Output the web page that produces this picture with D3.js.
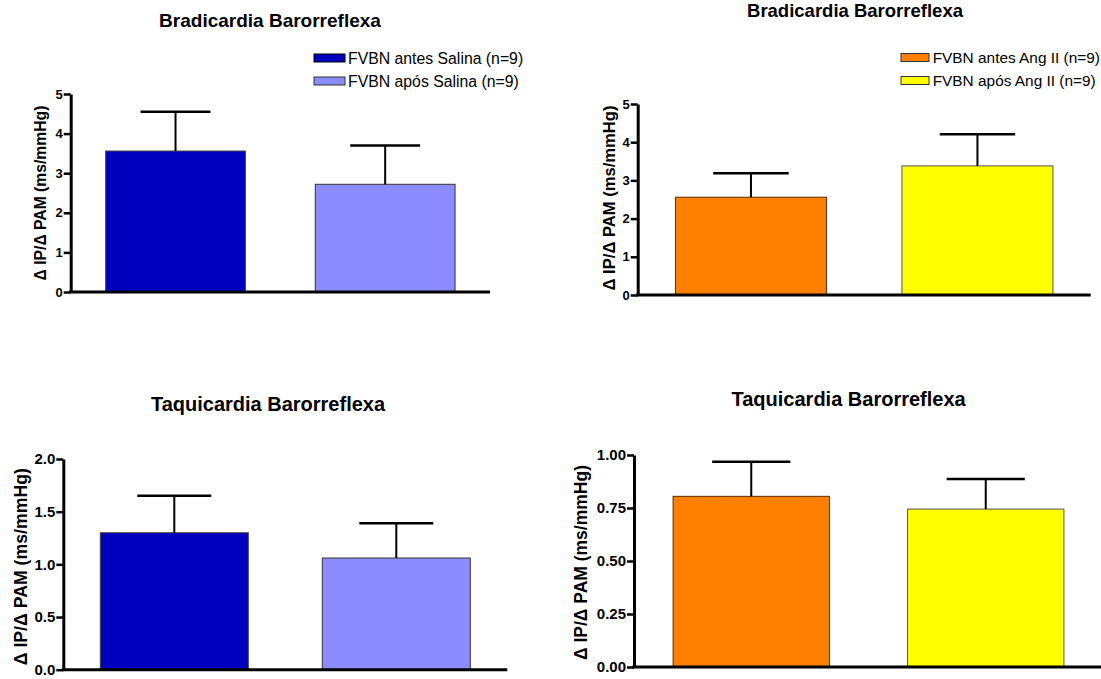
<!DOCTYPE html>
<html>
  <head>
    <meta charset="utf-8" />
    <title>Barorreflexa</title>
    <script src="https://d3js.org/d3.v7.min.js"></script>
    <style>
      body { margin: 0; background: #fff; }
      svg { display: block; font-family: "Liberation Sans", Arial, sans-serif; }
      .title { font-weight: bold; text-anchor: middle; }
      .ylab { font-weight: bold; text-anchor: middle; }
    </style>
  </head>
  <body>
    <svg width="1101" height="679"></svg>
    <script>
      // data
      const salinaGroups = ["FVBN antes Salina (n=9)", "FVBN após Salina (n=9)"];
      const angGroups = ["FVBN antes Ang II (n=9)", "FVBN após Ang II (n=9)"];
      const salinaColors = ["#0000BF", "#8C8CFF"];
      const angColors = ["#FF8000", "#FFFF00"];

      const bradiSalinaMean = [3.56, 2.72];
      const bradiSalinaSem = [0.99, 0.98];
      const bradiAngMean = [2.56, 3.38];
      const bradiAngSem = [0.63, 0.83];
      const taquiSalinaMean = [1.30, 1.06];
      const taquiSalinaSem = [0.35, 0.33];
      const taquiAngMean = [0.805, 0.745];
      const taquiAngSem = [0.163, 0.142];

      const bradiTicks = [0, 1, 2, 3, 4, 5];
      const taquiSalinaTicks = [0, 0.5, 1.0, 1.5, 2.0];
      const taquiAngTicks = [0, 0.25, 0.5, 0.75, 1.0];

      const titleBradi = "Bradicardia Barorreflexa";
      const titleTaqui = "Taquicardia Barorreflexa";
      const yLabel = "\u0394 IP/\u0394 PAM (ms/mmHg)";

      const svg = d3.select("svg");

      const panels = [
        { groups: salinaGroups, colors: salinaColors, strokes: ["#444", "#333"],
          mean: bradiSalinaMean, sem: bradiSalinaSem, ticks: bradiTicks, fmt: d3.format("d"), ymax: 5,
          x0: 70.7, x1: 490, yb: 292, yt: 94, tickFont: 13,
          title: titleBradi, tx: 270, ty: 27, tsize: 19,
          lx: 46, ly: 193, lsize: 15.7,
          legend: { x: 314, y: 54, w: 31, tx: 348, dy: 23, size: 15.8 } },
        { groups: angGroups, colors: angColors, strokes: ["#5c2e00", "#555"],
          mean: bradiAngMean, sem: bradiAngSem, ticks: bradiTicks, fmt: d3.format("d"), ymax: 5,
          x0: 637.7, x1: 1090.7, yb: 295, yt: 104, tickFont: 13,
          title: titleBradi, tx: 855, ty: 16.7, tsize: 18.5,
          lx: 614.6, ly: 198, lsize: 16.6,
          legend: { x: 901, y: 53.5, w: 28, tx: 932.7, dy: 23, size: 15.4 } },
        { groups: salinaGroups, colors: salinaColors, strokes: ["#444", "#333"],
          mean: taquiSalinaMean, sem: taquiSalinaSem, ticks: taquiSalinaTicks, fmt: d3.format(".1f"), ymax: 2,
          x0: 63.3, x1: 507.3, yb: 669.7, yt: 459, tickFont: 15,
          title: titleTaqui, tx: 268, ty: 410.7, tsize: 20,
          lx: 26.7, ly: 566.7, lsize: 17.7 },
        { groups: angGroups, colors: angColors, strokes: ["#5c2e00", "#555"],
          mean: taquiAngMean, sem: taquiAngSem, ticks: taquiAngTicks, fmt: d3.format(".2f"), ymax: 1,
          x0: 634, x1: 1103, yb: 667, yt: 455, tickFont: 15,
          title: titleTaqui, tx: 848.6, ty: 406, tsize: 20,
          lx: 587, ly: 562.5, lsize: 17.5 }
      ];

      panels.forEach(p => {
        const g = svg.append("g");

        const x = d3.scaleBand()
                    .domain(p.groups)
                    .range([p.x0, p.x1])
                    .paddingInner(1 / 3)
                    .paddingOuter(1 / 6);
        const y = d3.scaleLinear()
                    .domain([0, p.ymax])
                    .range([p.yb, p.yt]);

        const rows = p.groups.map((k, i) => ({ key: k, mean: p.mean[i], sem: p.sem[i], i: i }));

        // bars
        g.selectAll("rect.bar")
         .data(rows)
         .enter().append("rect")
         .attr("class", "bar")
         .attr("x", d => x(d.key))
         .attr("y", d => y(d.mean))
         .attr("width", x.bandwidth())
         .attr("height", d => y(0) - y(d.mean))
         .attr("fill", d => p.colors[d.i])
         .attr("stroke", d => p.strokes[d.i])
         .attr("stroke-width", 1);

        // error bars (upper only)
        const cap = x.bandwidth() / 4;
        rows.forEach(d => {
          const cx = x(d.key) + x.bandwidth() / 2;
          g.append("line")
           .attr("x1", cx).attr("x2", cx)
           .attr("y1", y(d.mean)).attr("y2", y(d.mean + d.sem))
           .attr("stroke", "#000").attr("stroke-width", 2);
          g.append("line")
           .attr("x1", cx - cap).attr("x2", cx + cap)
           .attr("y1", y(d.mean + d.sem)).attr("y2", y(d.mean + d.sem))
           .attr("stroke", "#000").attr("stroke-width", 2.5);
        });

        // y axis
        const yAxis = g.append("g")
                       .attr("transform", "translate(" + p.x0 + ",0)")
                       .call(d3.axisLeft(y).tickValues(p.ticks).tickFormat(p.fmt)
                               .tickSize(7).tickSizeOuter(0).tickPadding(1));
        yAxis.select(".domain").attr("stroke-width", 3).attr("stroke", "#000");
        yAxis.selectAll(".tick line").attr("stroke-width", 2.5).attr("stroke", "#000");
        yAxis.selectAll(".tick text")
             .attr("fill", "#000")
             .attr("font-weight", "bold")
             .attr("font-size", p.tickFont)
             .attr("font-family", "'Liberation Sans', Arial, sans-serif");

        // x axis line
        g.append("line")
         .attr("x1", p.x0 - 1.5).attr("x2", p.x1)
         .attr("y1", y(0)).attr("y2", y(0))
         .attr("stroke", "#000").attr("stroke-width", 3);

        // title
        g.append("text")
         .attr("class", "title")
         .attr("x", p.tx).attr("y", p.ty)
         .style("font-size", p.tsize + "px")
         .text(p.title);

        // y label
        g.append("text")
         .attr("class", "ylab")
         .attr("transform", "translate(" + p.lx + "," + p.ly + ") rotate(-90)")
         .style("font-size", p.lsize + "px")
         .text(yLabel);

        // legend
        if (p.legend) {
          const L = p.legend;
          p.groups.forEach((k, i) => {
            const row = g.append("g")
                         .attr("transform", "translate(0," + i * L.dy + ")");
            row.append("rect")
               .attr("x", L.x).attr("y", L.y)
               .attr("width", L.w).attr("height", 8)
               .attr("fill", p.colors[i])
               .attr("stroke", i === 0 && p.colors === salinaColors ? "#000" : "#333")
               .attr("stroke-width", 1);
            row.append("text")
               .attr("x", L.tx).attr("y", L.y + 9.8)
               .style("font-size", L.size + "px")
               .text(k);
          });
        }
      });
    </script>
  </body>
</html>
